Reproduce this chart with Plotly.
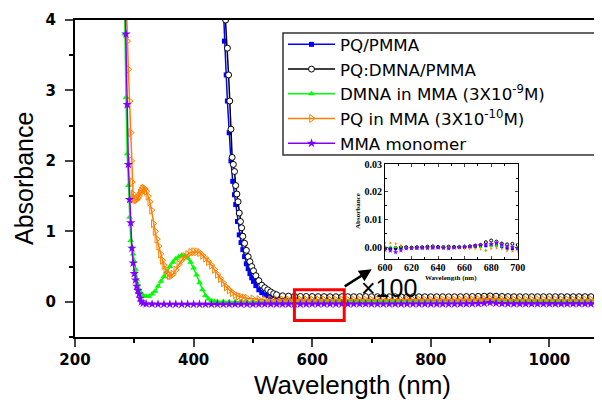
import plotly.graph_objects as go

# ---------------- data ----------------
TAIL_WL = [560, 570, 580, 590, 600, 610, 620, 630, 640, 650,
           660, 670, 680, 690, 700, 710, 720, 730, 740, 750,
           760, 770, 780, 790, 800, 810, 820, 830, 840, 850,
           860, 870, 880, 890, 900, 910, 920, 930, 940, 950,
           960, 970, 980, 990, 1000, 1010, 1020, 1030, 1040, 1050,
           1060, 1070, 1080]

# PQ/PMMA
BLUE_WL = [449, 452, 455, 457, 460, 463, 466, 469, 471, 474, 477, 480, 483, 486,
           489, 492, 495, 498, 501, 505, 510, 515, 520, 525, 530, 540, 550]
BLUE_ABS = [4.4, 3.7, 3.22, 2.85, 2.4, 2.0, 1.71, 1.52, 1.38, 1.14, 0.95, 0.84, 0.74, 0.64,
            0.54, 0.47, 0.40, 0.34, 0.29, 0.23, 0.17, 0.13, 0.10, 0.085, 0.072, 0.06, 0.055]
BLUE_TAIL = [0.053, 0.052, 0.051, 0.051, 0.050, 0.050, 0.050, 0.050, 0.050, 0.050,
             0.050, 0.050, 0.051, 0.051, 0.050, 0.050, 0.050, 0.050, 0.050, 0.050,
             0.050, 0.050, 0.050, 0.050, 0.050, 0.050, 0.050, 0.050, 0.050, 0.051,
             0.052, 0.053, 0.055, 0.058, 0.062, 0.057, 0.054, 0.053, 0.052, 0.052,
             0.052, 0.052, 0.052, 0.052, 0.052, 0.052, 0.052, 0.052, 0.052, 0.052,
             0.052, 0.052, 0.052]

# PQ:DMNA/PMMA
BLACK_WL = [451, 454, 457, 459, 461, 463, 465, 467, 469, 471, 473, 475, 477, 479, 481,
            483, 486, 489, 492, 495, 498, 501, 505, 510, 515, 520, 525, 530, 535, 540, 550]
BLACK_ABS = [4.4, 4.0, 3.6, 3.22, 2.85, 2.45, 2.05, 1.95, 1.85, 1.65, 1.53, 1.42, 1.26, 1.14, 1.05,
             0.93, 0.83, 0.73, 0.64, 0.57, 0.50, 0.44, 0.37, 0.30, 0.235, 0.20, 0.17, 0.14, 0.115, 0.10, 0.085]
BLACK_TAIL = [0.080, 0.078, 0.076, 0.075, 0.074, 0.073, 0.073, 0.072, 0.072, 0.072,
              0.072, 0.072, 0.073, 0.073, 0.072, 0.072, 0.072, 0.071, 0.071, 0.071,
              0.071, 0.071, 0.071, 0.071, 0.071, 0.071, 0.071, 0.071, 0.071, 0.072,
              0.073, 0.074, 0.076, 0.079, 0.083, 0.078, 0.075, 0.073, 0.072, 0.072,
              0.072, 0.072, 0.072, 0.072, 0.072, 0.072, 0.072, 0.072, 0.072, 0.072,
              0.072, 0.072, 0.072]

# DMNA in MMA
GREEN_WL = [283, 284, 286, 288, 290, 292, 294, 296, 298, 300, 302, 304, 306, 308, 310, 312,
            315, 320, 325, 330, 335, 340, 345, 350, 355, 360, 365, 370, 375, 380, 385, 390,
            395, 400, 405, 410, 415, 420, 425, 430, 435, 440, 450, 460, 470, 480, 490, 500,
            510, 520, 530, 540, 550]
GREEN_ABS = [4.5, 3.8, 2.9, 2.1, 1.65, 1.2, 0.87, 0.78, 0.68, 0.57, 0.46, 0.32, 0.24, 0.18, 0.14, 0.115,
             0.09, 0.075, 0.08, 0.11, 0.15, 0.22, 0.29, 0.36, 0.43, 0.50, 0.56, 0.61, 0.64, 0.66, 0.65, 0.62,
             0.56, 0.48, 0.38, 0.27, 0.17, 0.09, 0.04, 0.015, 0.008, 0.005, 0.003, 0.002, 0.002, 0.002, 0.002, 0.002,
             0.002, 0.002, 0.002, 0.002, 0.002]
GREEN_TAIL = [0.002, 0.002, 0.002, 0.002, 0.002, 0.002, 0.002, 0.002, 0.002, 0.002,
              0.002, 0.002, 0.002, 0.002, 0.002, 0.002, 0.002, 0.002, 0.002, 0.002,
              0.002, 0.002, 0.002, 0.002, 0.002, 0.002, 0.002, 0.002, 0.002, 0.003,
              0.004, 0.005, 0.007, 0.010, 0.014, 0.010, 0.006, 0.004, 0.003, 0.003,
              0.003, 0.003, 0.003, 0.003, 0.003, 0.003, 0.003, 0.003, 0.003, 0.003,
              0.003, 0.003, 0.003]

# PQ in MMA
ORANGE_WL = [286, 288, 290, 292, 294, 295, 296, 298, 300, 302, 304, 306, 308, 310, 312, 314,
             316, 318, 320, 323, 326, 329, 332, 335, 338, 341, 344, 347, 350, 353, 356, 359,
             362, 365, 370, 375, 380, 385, 390, 395, 400, 405, 410, 415, 420, 425, 430, 435,
             440, 445, 450, 455, 460, 465, 470, 475, 480, 485, 490, 500, 510, 520, 530, 540, 550]
ORANGE_ABS = [4.4, 3.7, 3.3, 2.85, 2.4, 2.0, 1.7, 1.53, 1.47, 1.45, 1.45, 1.47, 1.50, 1.54, 1.57, 1.60,
              1.61, 1.60, 1.57, 1.50, 1.42, 1.30, 1.11, 1.00, 0.89, 0.79, 0.68, 0.59, 0.52, 0.45, 0.39, 0.37,
              0.37, 0.39, 0.45, 0.53, 0.59, 0.64, 0.67, 0.70, 0.71, 0.71, 0.70, 0.66, 0.62, 0.57, 0.52, 0.46,
              0.39, 0.33, 0.27, 0.21, 0.17, 0.13, 0.10, 0.08, 0.065, 0.055, 0.05, 0.04, 0.03, 0.028, 0.027, 0.027, 0.027]
ORANGE_TAIL = [0.027, 0.027, 0.027, 0.027, 0.027, 0.027, 0.027, 0.027, 0.027, 0.027,
               0.027, 0.027, 0.027, 0.027, 0.027, 0.027, 0.027, 0.027, 0.027, 0.027,
               0.027, 0.027, 0.027, 0.027, 0.027, 0.027, 0.027, 0.027, 0.027, 0.028,
               0.029, 0.030, 0.032, 0.036, 0.042, 0.036, 0.032, 0.030, 0.030, 0.030,
               0.030, 0.030, 0.030, 0.030, 0.030, 0.030, 0.030, 0.030, 0.030, 0.030,
               0.030, 0.030, 0.030]

# MMA monomer
PURPLE_WL = [284, 286, 288, 290, 292, 294, 296, 298, 300, 302, 304, 306, 308, 310, 312, 315,
             320, 330, 340, 350, 360, 370, 380, 390, 400, 410, 420, 430, 440, 450, 460, 470,
             480, 490, 500, 510, 520, 530, 540, 550]
PURPLE_ABS = [4.5, 3.8, 2.8, 1.95, 1.45, 1.12, 0.76, 0.55, 0.40, 0.31, 0.22, 0.16, 0.11, 0.05, 0.0, -0.02,
              -0.03, -0.033, -0.034, -0.034, -0.034, -0.034, -0.034, -0.034, -0.034, -0.034, -0.034, -0.034,
              -0.034, -0.034, -0.034, -0.034, -0.034, -0.034, -0.034, -0.033, -0.033, -0.033, -0.033, -0.033]
PURPLE_TAIL = [-0.032, -0.032, -0.032, -0.032, -0.031, -0.031, -0.031, -0.031, -0.031, -0.031,
               -0.031, -0.031, -0.030, -0.030, -0.031, -0.031, -0.031, -0.031, -0.031, -0.031,
               -0.031, -0.031, -0.031, -0.031, -0.031, -0.031, -0.031, -0.031, -0.031, -0.030,
               -0.029, -0.028, -0.026, -0.020, -0.012, -0.020, -0.026, -0.028, -0.029, -0.029,
               -0.029, -0.029, -0.029, -0.029, -0.029, -0.029, -0.029, -0.029, -0.029, -0.029,
               -0.029, -0.029, -0.029]

# inset: 600-700 nm region
INSET_WL = [600, 604, 608, 612, 616, 620, 624, 628, 632, 636, 640, 644, 648,
            652, 656, 660, 664, 668, 672, 676, 680, 684, 688, 692, 696, 700]
INSET_BLUE = [-0.0004, -0.0005, -0.0006, -0.0003, -0.0002, -0.0002, -0.0003, -0.0002, -0.0001, -0.0002,
              -0.0001, 0.0, -0.0002, -0.0001, 0.0, 0.0, 0.0001, 0.0002, 0.0003, 0.0005,
              0.0007, 0.0008, 0.0002, -0.0004, -0.0006, -0.0005]
INSET_BLACK = [-0.0006, -0.0005, -0.0003, 0.0, 0.0, -0.0002, 0.0, 0.0, 0.0002, 0.0003,
               0.0001, 0.0, 0.0002, 0.0001, 0.0, 0.0001, 0.0003, 0.0005, 0.0008, 0.0018,
               0.0024, 0.0020, 0.0013, 0.0010, 0.0012, 0.0008]
INSET_GREEN = [0.0002, 0.0001, 0.0, 0.0001, 0.0, -0.0002, -0.0001, 0.0, -0.0002, 0.0,
               0.0, 0.0001, 0.0, 0.0001, 0.0002, 0.0006, 0.0005, 0.0004, 0.0, -0.0012,
               0.0003, 0.0006, 0.0004, 0.0002, 0.0003, 0.0002]
INSET_ORANGE = [0.0015, 0.0015, 0.0012, 0.0005, -0.0003, -0.0002, -0.0002, 0.0, -0.0002, -0.0002,
                -0.0002, -0.0003, -0.0002, -0.0003, -0.0003, -0.0005, -0.0005, -0.0005, -0.0008, -0.0012,
                -0.0005, -0.0003, -0.0006, -0.0013, -0.0015, -0.0015]
INSET_PURPLE = [-0.0010, -0.0013, -0.0018, -0.0012, -0.0005, -0.0004, -0.0003, -0.0003, -0.0004, -0.0002,
                -0.0002, -0.0003, -0.0005, -0.0002, 0.0, 0.0002, 0.0003, 0.0006, 0.0008, 0.0010,
                0.0012, 0.0015, 0.0010, 0.0003, 0.0, -0.0005]

NAMES = ["PQ/PMMA", "PQ:DMNA/PMMA", "DMNA in MMA (3X10<sup>-9</sup>M)",
         "PQ in MMA (3X10<sup>-10</sup>M)", "MMA monomer"]
COLORS = ["#0000ff", "#000000", "#00ff00", "#ff8000", "#8000ff"]

# ---------------- figure ----------------
SANS = "Liberation Sans, Arial, Helvetica, sans-serif"
WIDE = "DejaVu Sans, Verdana, sans-serif"
SERIF = "Liberation Serif, Times New Roman, serif"

markers = [
    dict(symbol="square", size=5, color=COLORS[0]),
    dict(symbol="circle", size=6, color="white", line=dict(color="black", width=1)),
    dict(symbol="triangle-up", size=6, color=COLORS[2]),
    dict(symbol="triangle-right-open", size=7, color=COLORS[3], line=dict(color=COLORS[3], width=1)),
    dict(symbol="star", size=7, color=COLORS[4]),
]
main_x = [BLUE_WL + TAIL_WL, BLACK_WL + TAIL_WL, GREEN_WL + TAIL_WL, ORANGE_WL + TAIL_WL, PURPLE_WL + TAIL_WL]
main_y = [BLUE_ABS + BLUE_TAIL, BLACK_ABS + BLACK_TAIL, GREEN_ABS + GREEN_TAIL,
          ORANGE_ABS + ORANGE_TAIL, PURPLE_ABS + PURPLE_TAIL]
inset_y = [INSET_BLUE, INSET_BLACK, INSET_GREEN, INSET_ORANGE, INSET_PURPLE]

fig = go.Figure()
for i in range(5):
    fig.add_trace(go.Scatter(
        x=main_x[i], y=main_y[i], name=NAMES[i], mode="lines+markers",
        line=dict(color=COLORS[i], width=1.5), marker=markers[i]))

inset_markers = [
    dict(symbol="square", size=3, color=COLORS[0]),
    dict(symbol="circle-open", size=3, color=COLORS[1]),
    dict(symbol="triangle-up", size=3, color=COLORS[2]),
    dict(symbol="triangle-right", size=3, color=COLORS[3]),
    dict(symbol="star", size=4, color=COLORS[4]),
]
for i in range(5):
    fig.add_trace(go.Scatter(
        x=INSET_WL, y=inset_y[i], mode="markers", showlegend=False,
        marker=inset_markers[i], xaxis="x3", yaxis="y3"))

# the page body has an 8px margin, so the figure is drawn 8px right/down
OFF = 8
W, H = 602 - OFF, 400 - OFF
L, R, T, B = 75 - OFF, 0, 20 - OFF, 400 - 337
PW, PH = W - L - R, H - T - B


def px(xp):
    return (xp - OFF - L) / PW


def py(yp):
    return (H - B - (yp - OFF)) / PH


fig.update_layout(
    width=W, height=H,
    margin=dict(l=L, r=R, t=T, b=B, pad=0, autoexpand=False),
    paper_bgcolor="white", plot_bgcolor="white",
    font=dict(family=SANS, color="black"),
    xaxis=dict(range=[200, 1088.7], tick0=200, dtick=200, ticks="outside", ticklen=8, tickwidth=2,
               showline=True, linewidth=2, linecolor="black", mirror=True, automargin=False,
               showgrid=False, zeroline=False,
               minor=dict(dtick=100, ticks="outside", ticklen=4, tickwidth=1.5, tickcolor="black"),
               tickfont=dict(family=WIDE, size=15, weight="bold")),
    xaxis2=dict(range=[200, 1088.7], overlaying="x", side="top", anchor="y", automargin=False,
                tick0=200, dtick=100, ticks="inside", ticklen=4, tickwidth=1.5,
                showticklabels=False, showline=False, showgrid=False, zeroline=False),
    yaxis=dict(range=[-0.5, 4], tick0=0, dtick=1, ticks="outside", ticklen=8, tickwidth=2,
               showline=True, linewidth=2, linecolor="black", mirror=False, automargin=False,
               showgrid=False, zeroline=False, ticklabelstandoff=6,
               minor=dict(dtick=0.5, ticks="outside", ticklen=4, tickwidth=1.5, tickcolor="black"),
               tickfont=dict(family=WIDE, size=15, weight="bold")),
    xaxis3=dict(domain=[px(385), px(517.7)], anchor="y3", range=[600, 700], tick0=600, dtick=20,
                ticks="inside", ticklen=3, tickwidth=1, showline=True, linewidth=1, linecolor="black",
                mirror="allticks", showgrid=False, zeroline=False, automargin=False,
                ticklabelstandoff=-1,
                minor=dict(dtick=10, ticks="inside", ticklen=2, tickcolor="black"),
                tickfont=dict(family=SERIF, size=10, weight="bold")),
    yaxis3=dict(domain=[py(259.3), py(164)], anchor="x3", range=[-0.0044, 0.0301], tick0=0, dtick=0.01,
                tickformat=".2f", ticks="inside", ticklen=3, tickwidth=1, showline=True, linewidth=1,
                linecolor="black", mirror="allticks", showgrid=False, zeroline=False, automargin=False,
                minor=dict(dtick=0.005, ticks="inside", ticklen=2, tickcolor="black"),
                tickfont=dict(family=SERIF, size=10, weight="bold")),
    legend=dict(x=px(283), y=py(27), xanchor="left", yanchor="top",
                bgcolor="rgba(0,0,0,0)", borderwidth=0,
                font=dict(family=WIDE, size=16.7), itemwidth=47, tracegroupgap=0),
    shapes=[
        # legend frame
        dict(type="rect", xref="paper", yref="paper", x0=px(283), x1=px(596), y0=py(155), y1=py(33),
             line=dict(color="#333333", width=1.5), fillcolor="white", layer="below"),
        # highlighted region
        dict(type="rect", xref="x", yref="y", x0=570, x1=654, y0=-0.266, y1=0.17,
             line=dict(color="#ff0000", width=3)),
    ],
    annotations=[
        dict(text="Absorbance", x=px(23.5), y=py(178.5), xref="paper", yref="paper", textangle=-90,
             showarrow=False, font=dict(family=SANS, size=25), xanchor="center", yanchor="middle"),
        dict(text="Wavelength (nm)", x=px(352), y=py(385), xref="paper", yref="paper",
             showarrow=False, font=dict(family=SANS, size=26), xanchor="center", yanchor="middle"),
        dict(text="×100", x=px(389), y=py(288), xref="paper", yref="paper",
             showarrow=False, font=dict(family=SANS, size=25), xanchor="center", yanchor="middle"),
        dict(text=" ", x=px(371.7), y=py(269.3), xref="paper", yref="paper", showarrow=True,
             ax=-30, ay=19, arrowhead=2, arrowsize=1, arrowwidth=2.5, arrowcolor="black"),
        dict(text="Absorbance", x=px(358), y=py(211), xref="paper", yref="paper", textangle=-90,
             showarrow=False, font=dict(family=SERIF, size=7, weight="bold"), xanchor="center", yanchor="middle"),
        dict(text="Wavelength (nm)", x=px(451), y=py(277.5), xref="paper", yref="paper",
             showarrow=False, font=dict(family=SERIF, size=7, weight="bold"), xanchor="center", yanchor="middle"),
    ],
)

fig.write_html("out.html")
